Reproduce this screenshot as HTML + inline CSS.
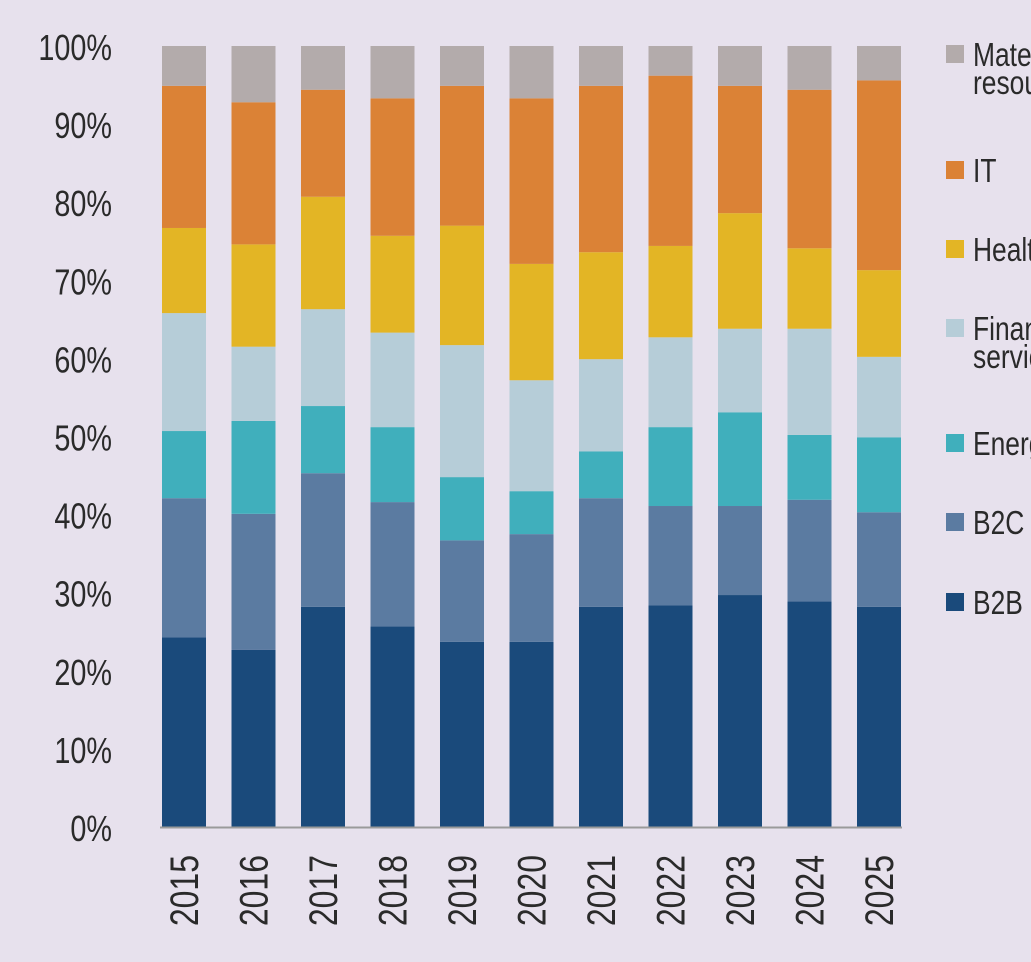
<!DOCTYPE html>
<html><head><meta charset="utf-8"><style>
html,body{margin:0;padding:0;background:#e7e1ed;overflow:hidden}
svg{display:block}
text{font-family:"Liberation Sans",sans-serif;fill:#2a2a2a}
</style></head><body>
<svg id="chart" width="1031" height="962" viewBox="0 0 1031 962">
<rect width="1031" height="962" fill="#e7e1ed"/>
<g id="yaxis"></g>
<g id="bars"></g>
<g id="xaxis"></g>
<g id="legend"></g>
</svg>
<script>
const years = ["2015","2016","2017","2018","2019","2020","2021","2022","2023","2024","2025"];
const seriesNames = ["B2B","B2C","Energy","Financial services","Healthcare","IT","Materials resources"];
const b2b = [24.3,22.7,28.2,25.7,23.7,23.7,28.2,28.4,29.7,28.9,28.2];
const b2c = [17.8,17.4,17.1,15.9,13.0,13.8,13.9,12.7,11.4,13.0,12.1];
const energy = [8.6,11.9,8.6,9.6,8.1,5.5,6.0,10.1,12.0,8.3,9.6];
const financial = [15.1,9.5,12.4,12.1,16.9,14.2,11.8,11.5,10.7,13.6,10.3];
const healthcare = [10.9,13.1,14.4,12.4,15.3,14.9,13.7,11.7,14.8,10.3,11.1];
const it = [18.2,18.2,13.7,17.6,17.9,21.2,21.3,21.8,16.3,20.3,24.3];
const materials = [5.1,7.2,5.6,6.7,5.1,6.7,5.1,3.8,5.1,5.6,4.4];
const yTicks = ["0%","10%","20%","30%","40%","50%","60%","70%","80%","90%","100%"];

const series = [b2b,b2c,energy,financial,healthcare,it,materials];
const colors = ["#1a4a7b","#5b7ba1","#40afbc","#b6cdd8","#e3b525","#db8236","#b3abab"];
const NS="http://www.w3.org/2000/svg";
const y0=827, y100=46;
const yScale = v => y0 - (y0-y100)*v/100;
const xStart=162, pitch=69.5, bw=44;
const xScale = i => xStart + i*pitch;
function el(t,a,p){const e=document.createElementNS(NS,t);for(const k in a)e.setAttribute(k,a[k]);p.appendChild(e);return e;}

const yAxis=document.getElementById('yaxis');
yTicks.forEach((t,i)=>{
  const e=el('text',{x:0,y:0,'text-anchor':'end','font-size':36,transform:`translate(112,${yScale(i*10)+14}) scale(0.8,1)`},yAxis);
  
  
  e.textContent=t;
});

const bars=document.getElementById('bars');
years.forEach((yr,i)=>{
  let cum=0;
  series.forEach((s,k)=>{
    const v=s[i];
    const top=yScale(cum+v), bot=yScale(cum);
    const r=el('rect',{x:xScale(i),y:top,width:bw,height:bot-top,fill:colors[k]},bars);
    
    
    cum+=v;
  });
});

const xAxis=document.getElementById('xaxis');
const ln=el('line',{x1:160,x2:902,y1:y0+0.5,y2:y0+0.5,stroke:'#9a9a9a','stroke-width':2},xAxis);


years.forEach((yr,i)=>{
  const cx=xScale(i)+bw/2+14;
  const e=el('text',{x:0,y:0,'text-anchor':'end','font-size':40,transform:`translate(${cx},855) rotate(-90) scale(0.8,1)`},xAxis);
  
  
  e.textContent=yr;
});

const legend=document.getElementById('legend');
const leg=[
  {k:6,y:45,lines:["Materials &","resources"]},
  {k:5,y:161,lines:["IT"]},
  {k:4,y:240,lines:["Healthcare"]},
  {k:3,y:319,lines:["Financial","services"]},
  {k:2,y:434,lines:["Energy"]},
  {k:1,y:513,lines:["B2C"]},
  {k:0,y:593,lines:["B2B"]}
];
leg.forEach(o=>{
  const g=el('g',{},legend);
  
  
  el('rect',{x:946,y:o.y,width:18,height:18,fill:colors[o.k]},g);
  o.lines.forEach((t,j)=>{
    const e=el('text',{x:0,y:0,'font-size':33,transform:`translate(973,${o.y+21+j*28}) scale(0.8,1)`},g);
    e.textContent=t;
  });
});
</script>
</body></html>
